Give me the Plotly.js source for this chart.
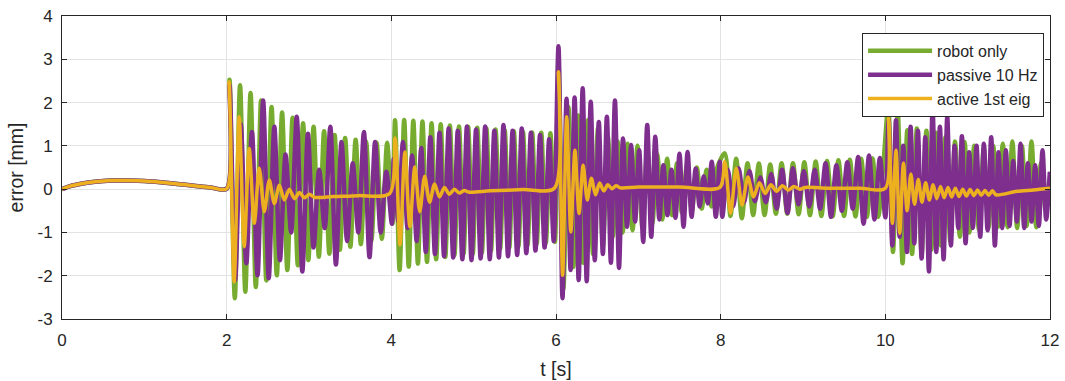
<!DOCTYPE html>
<html>
<head>
<meta charset="utf-8">
<script src="https://cdn.plot.ly/plotly-3.0.1.min.js"></script>
<style>html,body{margin:0;padding:0;background:#fff;}#chart{width:1065px;height:381px;}</style>
</head>
<body>
<div id="chart"></div>
<script>
// ---- data ----
// common slow drift 0..2 s (all three series overlap)
const baseT = [0, 0.1, 0.25, 0.4, 0.6, 0.8, 1.0, 1.2, 1.4, 1.6, 1.8, 2.0];
const baseV = [0, 0.07, 0.13, 0.17, 0.2, 0.2, 0.19, 0.16, 0.12, 0.08, 0.04, 0.01];

// robot only: extremum values (alternating) per excitation segment
const greenStart = [2.035, 4.045, 6.03, 8.05, 10.035];
const greenHalf  = [0.0638, 0.0555, 0.06, 0.069, 0.058];
const greenSeg2  = [2.53,-2.52,2.40,-2.37,2.22,-2.26,2.05,-2.11,1.90,-1.99,1.77,-1.87,1.65,-1.76,1.52,-1.64,1.44,-1.56,1.34,-1.49,1.25,-1.40,1.18,-1.33,1.14,-1.27,1.10,-1.20,1.08,-1.15,1.07,-0.8];
const greenSeg4  = [1.59,-1.87,1.60,-1.79,1.58,-1.72,1.56,-1.68,1.52,-1.62,1.50,-1.57,1.47,-1.52,1.45,-1.49,1.44,-1.50,1.42,-1.47,1.40,-1.42,1.38,-1.38,1.36,-1.35,1.34,-1.32,1.32,-1.29,1.31,-1.26,1.30,-1.24,1.29,-1.22];
const greenSeg6  = [2.9,-2.3,1.9,-1.8,1.7,-1.7,1.6,-1.5,1.4,-1.3,1.2,-1.1,1.1,-1.0,1.05,-0.95,1.0,-0.9,0.95,-0.8,0.8,-0.7,0.7,-0.6,0.6,-0.55,0.55,-0.5,0.5,-0.45,0.45,-0.4,0.45];
const greenSeg8  = [0.83,-0.62,0.70,-0.67,0.60,-0.60,0.59,-0.60,0.57,-0.57,0.60,-0.57,0.60,-0.58,0.62,-0.60,0.64,-0.62,0.65,-0.63,0.67,-0.62,0.68,-0.63,0.70,-0.64,0.71,-0.64,0.72];
const greenSeg10 = [1.9,-1.45,1.75,-1.71,1.36,-1.5,1.4,-1.5,1.35,-1.4,1.3,-1.3,1.2,-1.2,1.1,-1.1,1.09,-1.0,1.0,-0.95,0.95,-0.9,1.0,-0.87,1.05,-0.88,1.1,-0.9,1.0,-0.85,1.1,-0.88,0.6,-0.5,0.4];

// passive 10 Hz
const purpleStart = [2.035, 4.03, 6.03, 8.02, 10.04];
const purpleHalf  = [0.068, 0.0555, 0.049, 0.066, 0.0445];
const purpleSeg2  = [2.4,-2.1,1.5,-1.71,1.32,-1.99,2.05,-2.06,1.44,-1.64,0.8,-1.0,1.67,-1.9,1.28,-1.35,0.45,-0.9,1.44,-1.74,1.09,-1.2,0.6,-1.0,1.32,-1.57,1.09,-1.0,0.4,-0.8];
const purpleSeg4  = [0.7,-0.75,1.09,-0.9,0.78,-1.2,0.95,-1.45,1.2,-1.5,1.3,-1.55,1.4,-1.58,1.35,-1.62,1.45,-1.64,1.38,-1.6,1.45,-1.62,1.35,-1.58,1.48,-1.55,1.35,-1.52,1.4,-1.48,1.3,-1.42,1.25,-1.35,1.15,-1.2];
const purpleSeg6  = [3.30,-2.52,2.09,-1.87,2.12,-2.10,2.33,-2.13,2.02,-1.64,1.55,-1.50,1.67,-1.70,2.05,-1.82,1.17,-0.87,1.02,-0.75,0.90,-1.22,1.48,-1.10,1.21,-0.70,0.55,-0.60,0.45,-0.66,0.82,-0.87,0.86,-0.64,0.47,-0.40,0.30,-0.33,0.63,-0.64,0.63];
const purpleSeg8  = [-0.64,0.45,-0.40,0.48,-0.30,0.42,-0.28,0.27,-0.30,0.35,-0.45,0.45,-0.55,0.48,-0.35,0.42,-0.40,0.45,-0.45,0.60,-0.64,0.55,-0.50,0.62,-0.45,0.74,-0.80,0.78,-0.70,0.72,-0.65];
const purpleSeg10 = [1.6,-1.3,1.59,-1.1,1.0,-1.45,1.44,-1.25,1.35,-1.6,1.2,-1.9,1.86,-1.45,1.44,-1.62,1.67,-1.3,1.0,-0.9,1.22,-1.25,0.85,-0.9,1.0,-1.1,1.05,-0.95,1.2,-1.3,0.85,-0.9,0.9,-0.85,0.65,-0.75,1.05,-0.9,0.6,-0.75,0.55,-0.85,0.9,-0.7,0.4];

// active 1st eig
const orangeStart = [2.03, 4.045, 6.03, 8.05, 10.04];
const orangeHalf  = [0.061, 0.06, 0.05, 0.07, 0.045];
const orangeSeg2  = [2.48,-2.14,1.67,-1.33,0.94,-0.79,0.48,-0.52,0.21,-0.33,0.09,-0.25,0.0,-0.22,-0.08,-0.2,-0.12,-0.19];
const orangeSeg4  = [1.18,-1.29,0.86,-0.87,0.51,-0.52,0.30,-0.30,0.12,-0.18,0.04,-0.12,0.0,-0.09,-0.03,-0.07];
const orangeSeg6  = [2.71,-1.99,1.67,-0.99,0.90,-0.56,0.55,-0.25,0.25,-0.13,0.14,-0.04,0.1,0.01,0.08,0.03];
const orangeSeg8  = [0.63,-0.56,0.48,-0.37,0.28,-0.18,0.15,-0.10,0.10,-0.05,0.08,-0.02,0.06,0.0,0.04];
const orangeSeg10 = [1.64,-0.79,0.90,-1.02,0.60,-0.50,0.35,-0.35,0.22,-0.30,0.15,-0.25,0.10,-0.22,0.06,-0.2,0.04,-0.18,0.02,-0.17,0.0,-0.16,-0.01,-0.15,-0.02,-0.14,-0.03,-0.14,-0.04,-0.13];
const orangeRestT = [3.3, 3.6, 3.98, 5.2, 5.6, 5.98, 7.0, 7.5, 7.99, 9.3, 9.7, 10.0, 11.6, 11.8, 12.0];
const orangeRestV = [-0.17, -0.15, -0.1, -0.04, -0.01, 0.02, 0.05, 0.05, 0.04, 0.02, 0.02, 0.02, -0.05, -0.02, 0.02];

const seriesNames = ['robot only', 'passive 10 Hz', 'active 1st eig'];
const xTicks = [0, 2, 4, 6, 8, 10, 12];
const yTicks = [-3, -2, -1, 0, 1, 2, 3, 4];

function build(starts, halfs, segs, restT, restV) {
  const pts = [];
  baseT.forEach((t, i) => pts.push([t, baseV[i]]));
  segs.forEach((seg, k) => seg.forEach((v, i) => pts.push([starts[k] + i * halfs[k], v])));
  if (restT) restT.forEach((t, i) => pts.push([t, restV[i]]));
  pts.sort((a, b) => a[0] - b[0]);
  return {x: pts.map(p => p[0]), y: pts.map(p => p[1])};
}

const g = build(greenStart, greenHalf, [greenSeg2, greenSeg4, greenSeg6, greenSeg8, greenSeg10]);
const p = build(purpleStart, purpleHalf, [purpleSeg2, purpleSeg4, purpleSeg6, purpleSeg8, purpleSeg10]);
const o = build(orangeStart, orangeHalf, [orangeSeg2, orangeSeg4, orangeSeg6, orangeSeg8, orangeSeg10], orangeRestT, orangeRestV);

const font = {family: '"Liberation Sans", Arial, Helvetica, sans-serif', color: '#262626'};

const traces = [
  {x: g.x, y: g.y, name: seriesNames[0], mode: 'lines', line: {color: '#77AC30', width: 4.5, shape: 'spline', smoothing: 0.8}},
  {x: p.x, y: p.y, name: seriesNames[1], mode: 'lines', line: {color: '#7E2F8E', width: 4.5, shape: 'spline', smoothing: 0.8}},
  {x: o.x, y: o.y, name: seriesNames[2], mode: 'lines', line: {color: '#EDB120', width: 3.5, shape: 'spline', smoothing: 0.8}}
];

const axisCommon = {
  showgrid: true, gridcolor: '#e3e3e3', gridwidth: 1,
  showline: true, linecolor: '#262626', linewidth: 1, mirror: 'ticks',
  ticks: 'inside', ticklen: 5, tickcolor: '#262626',
  zeroline: false, tickfont: {family: font.family, color: '#262626', size: 17}
};

const layout = {
  width: 1065, height: 381,
  margin: {l: 62, r: 15, t: 16, b: 62},
  paper_bgcolor: '#ffffff', plot_bgcolor: '#ffffff',
  font: font,
  showlegend: true,
  xaxis: Object.assign({}, axisCommon, {
    range: [0, 12], tickvals: xTicks, ticktext: xTicks.map(String),
    ticklabelstandoff: 6,
    title: {text: 't [s]', font: {family: font.family, color: '#262626', size: 19.5}, standoff: 12}
  }),
  yaxis: Object.assign({}, axisCommon, {
    range: [-3, 4], tickvals: yTicks, ticktext: yTicks.map(String),
    ticklabelstandoff: 5,
    title: {text: 'error [mm]', font: {family: font.family, color: '#262626', size: 19.5}, standoff: 8}
  }),
  legend: {
    x: 0.994, xanchor: 'right', y: 0.944, yanchor: 'top',
    bgcolor: '#ffffff', bordercolor: '#262626', borderwidth: 1,
    font: {family: font.family, color: '#262626', size: 16},
    itemwidth: 64, tracegroupgap: 0
  },
  hovermode: false
};

Plotly.newPlot('chart', traces, layout, {displayModeBar: false, staticPlot: true});
</script>
</body>
</html>
